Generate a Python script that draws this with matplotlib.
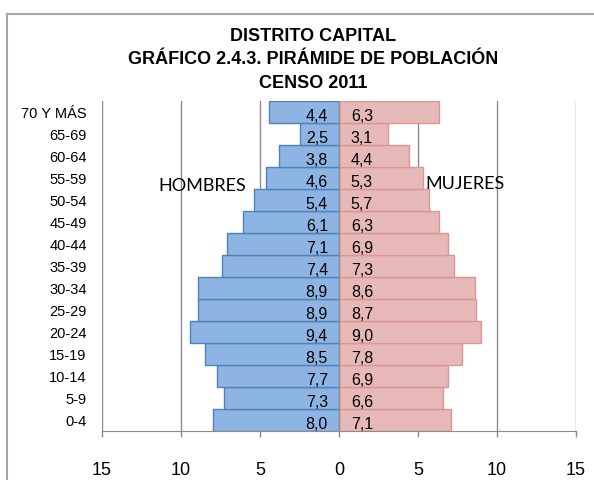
import matplotlib
matplotlib.use("Agg")
import matplotlib.pyplot as plt
from matplotlib.patches import Rectangle
import numpy as np

ages = ["0-4", "5-9", "10-14", "15-19", "20-24", "25-29", "30-34", "35-39",
        "40-44", "45-49", "50-54", "55-59", "60-64", "65-69", "70 Y MÁS"]
hombres = [8.0, 7.3, 7.7, 8.5, 9.4, 8.9, 8.9, 7.4, 7.1, 6.1, 5.4, 4.6, 3.8, 2.5, 4.4]
mujeres = [7.1, 6.6, 6.9, 7.8, 9.0, 8.7, 8.6, 7.3, 6.9, 6.3, 5.7, 5.3, 4.4, 3.1, 6.3]
xticks = [-15, -10, -5, 0, 5, 10, 15]
xticklabels = ["15", "10", "5", "0", "5", "10", "15"]

plt.rcParams['font.family'] = ['Liberation Sans', 'DejaVu Sans']

fig = plt.figure(figsize=(5.94, 4.81), dpi=100)
ax = fig.add_axes([102/594, 1-432/481, (576-102)/594, (432-102)/481])

y = np.arange(len(ages))
grid_c = '#8c8c8c'
for xv in xticks:
    if xv != 0:
        ax.axvline(xv, color=grid_c, lw=1.0, zorder=0)

ax.barh(y, [-v for v in hombres], height=1.0, color='#8EB4E3', edgecolor='#4F81BD', lw=1.0, zorder=2)
ax.barh(y, mujeres, height=1.0, color='#E6B9B8', edgecolor='#D99694', lw=1.0, zorder=2)
ax.axvline(0, color=grid_c, lw=1.0, zorder=3)

for yi, h, m in zip(y, hombres, mujeres):
    ax.text(-0.7, yi - 0.15, f"{h:.1f}".replace('.', ','), ha='right', va='center', fontsize=11.5, zorder=4)
    ax.text(0.75, yi - 0.15, f"{m:.1f}".replace('.', ','), ha='left', va='center', fontsize=11.5, zorder=4)

ax.set_xlim(-15, 15)
ax.set_ylim(-0.5, len(ages) - 0.5)
ax.set_yticks(y)
ax.set_yticklabels(ages, fontsize=10.5)
ax.tick_params(axis='y', length=0, pad=11)
ax.set_xticks(xticks)
ax.set_xticklabels(xticklabels, fontsize=13)
ax.tick_params(axis='x', length=4.5, width=1, color=grid_c, pad=17, direction='out')

for s in ['top', 'right', 'left']:
    ax.spines[s].set_visible(False)
ax.spines['bottom'].set_color(grid_c)

ax.text(-8.67, 10.7, "HOMBRES", ha='center', va='center', fontsize=13, family=['Lato', 'DejaVu Sans'], zorder=5)
ax.text(7.97, 10.75, "MUJERES", ha='center', va='center', fontsize=13, family=['Lato', 'DejaVu Sans'], zorder=5)

title_fam = ['Liberation Sans', 'DejaVu Sans']
tx = 313/594
fig.text(tx, 1-37/481, "DISTRITO CAPITAL", ha='center', va='center', fontsize=13, fontweight='bold', family=title_fam)
fig.text(tx, 1-60/481, "GRÁFICO 2.4.3. PIRÁMIDE DE POBLACIÓN", ha='center', va='center', fontsize=13, fontweight='bold', family=title_fam)
fig.text(tx, 1-84/481, "CENSO 2011", ha='center', va='center', fontsize=13, fontweight='bold', family=title_fam)

fig.patches.append(Rectangle((7/594, -0.1), 1.2, 1.1 - 15/481, transform=fig.transFigure,
                             fill=False, edgecolor='#a6a6a6', lw=1.5))

fig.savefig("out.png", dpi=100)
